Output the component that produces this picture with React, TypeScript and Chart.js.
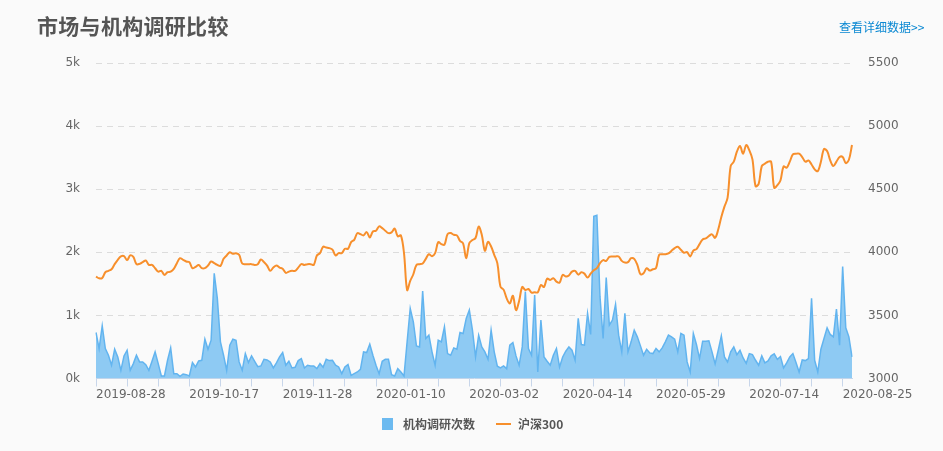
import React, { useEffect, useRef } from 'react';
import { Chart, registerables } from 'chart.js';

Chart.register(...registerables);

// Trading days (A-share calendar), month -> days
const tradingDays: [string, number[]][] = [
  ['2019-08', [28, 29, 30]],
  ['2019-09', [2, 3, 4, 5, 6, 9, 10, 11, 12, 16, 17, 18, 19, 20, 23, 24, 25, 26, 27, 30]],
  ['2019-10', [8, 9, 10, 11, 14, 15, 16, 17, 18, 21, 22, 23, 24, 25, 28, 29, 30, 31]],
  ['2019-11', [1, 4, 5, 6, 7, 8, 11, 12, 13, 14, 15, 18, 19, 20, 21, 22, 25, 26, 27, 28, 29]],
  ['2019-12', [2, 3, 4, 5, 6, 9, 10, 11, 12, 13, 16, 17, 18, 19, 20, 23, 24, 25, 26, 27, 30, 31]],
  ['2020-01', [2, 3, 6, 7, 8, 9, 10, 13, 14, 15, 16, 17, 20, 21, 22, 23]],
  ['2020-02', [3, 4, 5, 6, 7, 10, 11, 12, 13, 14, 17, 18, 19, 20, 21, 24, 25, 26, 27, 28]],
  ['2020-03', [2, 3, 4, 5, 6, 9, 10, 11, 12, 13, 16, 17, 18, 19, 20, 23, 24, 25, 26, 27, 30, 31]],
  ['2020-04', [1, 2, 3, 7, 8, 9, 10, 13, 14, 15, 16, 17, 20, 21, 22, 23, 24, 27, 28, 29, 30]],
  ['2020-05', [6, 7, 8, 11, 12, 13, 14, 15, 18, 19, 20, 21, 22, 25, 26, 27, 28, 29]],
  ['2020-06', [1, 2, 3, 4, 5, 8, 9, 10, 11, 12, 15, 16, 17, 18, 19, 22, 23, 24, 29, 30]],
  ['2020-07', [1, 2, 3, 6, 7, 8, 9, 10, 13, 14, 15, 16, 17, 20, 21, 22, 23, 24, 27, 28, 29, 30, 31]],
  ['2020-08', [3, 4, 5, 6, 7, 10, 11, 12, 13, 14, 17, 18, 19, 20, 21, 24, 25, 26, 27, 28]],
];

const dates: string[] = tradingDays.flatMap(([ym, days]) =>
  days.map((d) => `${ym}-${String(d).padStart(2, '0')}`)
);

// 机构调研次数
const researchCounts: number[] = [
  729, 475, 836, 475, 369, 210, 464, 342, 130, 358,
  448, 130, 236, 369, 263, 263, 220, 130, 273, 422,
  236, 40, 40, 289, 485, 77, 77, 34, 72, 61,
  40, 252, 183, 279, 289, 623, 464, 607, 1668, 1270,
  581, 369, 130, 528, 623, 607, 263, 130, 395,
  252, 358, 273, 188, 199, 305, 294, 263, 167, 247,
  342, 411, 210, 273, 167, 178, 284, 316, 167, 210,
  199, 199, 156, 236, 178, 305, 284, 289, 210, 183,
  77, 183, 220, 50, 77, 103, 146, 422, 411, 544,
  369, 210, 77, 273, 305, 305, 61, 40, 156,
  103, 40, 581, 1111, 899, 517, 501, 1387, 634, 687,
  422, 210, 607, 581, 820, 395, 369, 485, 464, 729,
  714, 952, 1085, 767, 342, 687, 501, 422, 305, 767,
  422, 194, 167, 199, 156, 528, 570, 358, 210, 501,
  1377, 475, 369, 1324, 103, 926, 342, 273,
  210, 369, 475, 183, 342, 432, 501, 448, 289, 952,
  538, 528, 1032, 698, 2570, 2586, 1297, 634, 1600, 846,
  926, 1175, 687, 422, 1032, 422, 581, 767, 660, 517,
  369, 464, 406, 395, 475, 422, 485, 581, 687, 660,
  623, 422, 714, 687, 263, 103, 714, 538, 316, 591,
  591, 597, 422, 231, 448, 676, 342, 263, 422, 501,
  379, 448, 326, 241, 395, 379, 289, 210, 358, 247,
  279, 358, 390, 305, 347, 167, 247, 342, 395, 252,
  103, 294, 284, 316, 1270, 289, 103, 464, 634, 804,
  698, 660, 1101, 528, 1774, 804, 660, 342,
];

// 沪深300
const hs300: number[] = [
  3808, 3794, 3797, 3842, 3853, 3866, 3906, 3940, 3967, 3970,
  3938, 3975, 3964, 3906, 3908, 3922, 3935, 3900, 3900, 3874,
  3847, 3853, 3821, 3842, 3847, 3869, 3914, 3953, 3940, 3927,
  3922, 3874, 3885, 3900, 3874, 3874, 3895, 3927, 3914, 3900,
  3892, 3948, 3975, 4001, 3988, 3993, 3980, 3911, 3906,
  3906, 3906, 3900, 3906, 3943, 3922, 3895, 3853, 3879, 3895,
  3879, 3869, 3837, 3847, 3853, 3853, 3879, 3906, 3900, 3906,
  3906, 3900, 3975, 3993, 4044, 4038, 4033, 4022, 3975, 3993,
  3993, 4028, 4028, 4081, 4099, 4152, 4144, 4134, 4160, 4118,
  4165, 4171, 4206, 4192, 4171, 4152, 4158, 4187, 4126,
  4134, 3993, 3701, 3773, 3826, 3900, 3906, 3911, 3948, 3985,
  3969, 3993, 4081, 4065, 4060, 4144, 4152, 4139, 4134, 4091,
  4070, 3953, 4073, 4097, 4113, 4203, 4139, 4012, 4083, 4046,
  3980, 3914, 3728, 3704, 3635, 3595, 3656, 3542, 3614, 3725,
  3701, 3709, 3680, 3683, 3683, 3741, 3725, 3792,
  3781, 3794, 3768, 3760, 3821, 3808, 3816, 3847, 3853, 3823,
  3842, 3831, 3800, 3831, 3858, 3874, 3914, 3938, 3932, 3964,
  3967, 3967, 3967, 3932, 3919, 3922, 3953, 3948, 3900, 3826,
  3834, 3874, 3855, 3866, 3874, 3980, 3985, 3985, 3991, 4012,
  4033, 4044, 4020, 3996, 4001, 3967, 4014, 4025, 4065, 4102,
  4110, 4129, 4142, 4115, 4180, 4280, 4362, 4431, 4683, 4718,
  4797, 4842, 4781, 4850, 4808, 4736, 4524, 4542, 4683, 4702,
  4718, 4718, 4511, 4532, 4569, 4680, 4670, 4718, 4776, 4781,
  4781, 4755, 4718, 4728, 4696, 4657, 4643, 4718, 4818, 4802,
  4728, 4683, 4718, 4755, 4755, 4707, 4733, 4850,
];

const leftMin = 0;
const leftMax = 5000;
const leftStep = 1000;
const rightMin = 3000;
const rightMax = 5500;
const rightStep = 500;

const tickFont = { family: 'DejaVu Sans', size: 12 };
const cjk = '"Noto Sans CJK SC", "Noto Sans", sans-serif';

export default function App() {
  const ref = useRef<HTMLCanvasElement>(null);

  useEffect(() => {
    document.body.style.margin = '0';
    document.body.style.background = '#fafafa';
    const chart = new Chart(ref.current as HTMLCanvasElement, {
      type: 'line',
      data: {
        labels: dates,
        datasets: [
          {
            label: '沪深300',
            data: hs300,
            yAxisID: 'y1',
            borderColor: '#f78f2c',
            borderWidth: 2,
            pointRadius: 0,
            tension: 0.35,
            fill: false,
            order: 1,
          },
          {
            label: '机构调研次数',
            data: researchCounts,
            yAxisID: 'y',
            borderColor: '#62b4ef',
            backgroundColor: '#8ecaf3',
            borderWidth: 1.5,
            pointRadius: 0,
            tension: 0,
            fill: 'origin',
            order: 2,
          },
        ],
      },
      options: {
        responsive: false,
        animation: false,
        layout: { padding: { top: 63, bottom: 0, left: 0, right: 0 } },
        plugins: { legend: { display: false }, tooltip: { enabled: false } },
        scales: {
          x: {
            type: 'category',
            offset: false,
            afterBuildTicks: (s: any) => {
              s.ticks = s.ticks.filter((t: any) => t.value % 10 === 0);
            },
            afterFit: (s: any) => {
              s.height = 72.5;
            },
            grid: {
              display: true,
              drawOnChartArea: false,
              drawTicks: true,
              tickLength: 8,
              color: '#c8d6ea',
            },
            border: { display: true, color: '#c8d6ea' },
            ticks: {
              autoSkip: false,
              maxRotation: 0,
              minRotation: 0,
              align: 'start',
              padding: 1,
              color: '#666',
              font: tickFont,
              callback: (v: any) => (Number(v) % 30 === 0 ? dates[Number(v)] : ''),
            },
          },
          y: {
            position: 'left',
            min: leftMin,
            max: leftMax,
            afterFit: (s: any) => {
              s.width = 96;
            },
            ticks: {
              stepSize: leftStep,
              padding: 16,
              color: '#666',
              font: tickFont,
              callback: (v: any) => `${Number(v) / 1000}k`,
            },
            grid: {
              drawTicks: false,
              color: (ctx: any) => (ctx.tick && ctx.tick.value === 0 ? 'rgba(0,0,0,0)' : '#dcdcdc'),
            },
            border: { display: false, dash: [6, 5] },
          },
          y1: {
            position: 'right',
            min: rightMin,
            max: rightMax,
            afterFit: (s: any) => {
              s.width = 91;
            },
            ticks: {
              stepSize: rightStep,
              padding: 16,
              color: '#666',
              font: tickFont,
              callback: (v: any) => String(v),
            },
            grid: { display: false, drawTicks: false },
            border: { display: false },
          },
        },
      },
    } as any);
    return () => chart.destroy();
  }, []);

  return (
    <div style={{ position: 'relative', width: 943, height: 451, background: '#fafafa', overflow: 'hidden' }}>
      <canvas ref={ref} width={943} height={451} style={{ display: 'block', position: 'absolute', left: 0, top: 0 }} />
      <div
        style={{
          position: 'absolute', left: 37, top: 15, fontFamily: cjk, fontWeight: 'bold',
          fontSize: 21, lineHeight: '21px', color: '#555', whiteSpace: 'nowrap', letterSpacing: 0.3,
        }}
      >
        市场与机构调研比较
      </div>
      <div
        style={{
          position: 'absolute', left: 839, top: 21, fontFamily: cjk, fontSize: 12,
          lineHeight: '12px', color: '#0a88d2', whiteSpace: 'nowrap',
        }}
      >
        查看详细数据&gt;&gt;
      </div>
      <div style={{ position: 'absolute', left: 382, top: 418, width: 11, height: 12, background: '#6cbaf0' }} />
      <div
        style={{
          position: 'absolute', left: 403, top: 418, fontFamily: cjk, fontWeight: 'bold', fontSize: 12,
          lineHeight: '12px', color: '#555', whiteSpace: 'nowrap',
        }}
      >
        机构调研次数
      </div>
      <div style={{ position: 'absolute', left: 496, top: 423, width: 15, height: 2, background: '#f78f2c' }} />
      <div
        style={{
          position: 'absolute', left: 518, top: 418, fontFamily: cjk, fontWeight: 'bold', fontSize: 12,
          lineHeight: '12px', color: '#555', whiteSpace: 'nowrap',
        }}
      >
        沪深300
      </div>
    </div>
  );
}
